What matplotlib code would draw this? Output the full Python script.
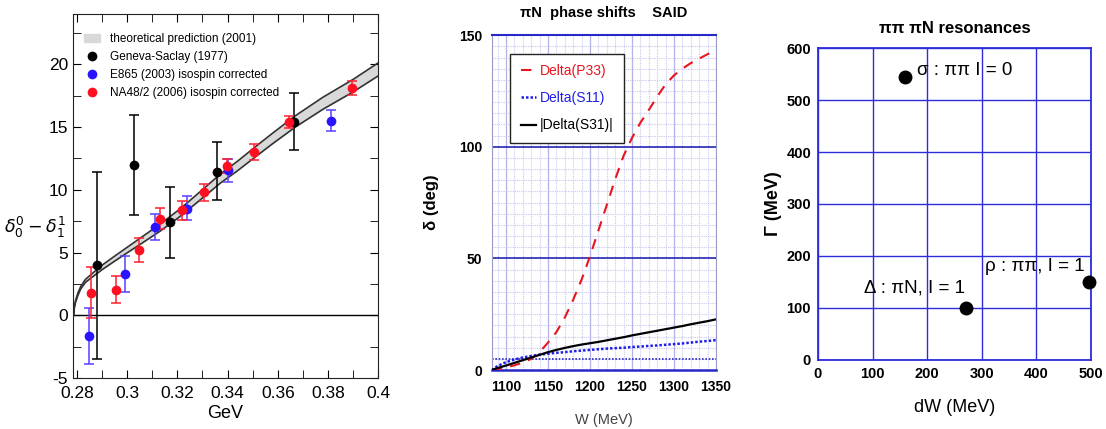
import numpy as np
import matplotlib.pyplot as plt
from matplotlib.ticker import MultipleLocator

# ---- panel 1: delta_0^0 - delta_1^1 vs GeV
theory_x = [0.2788, 0.2790, 0.2795, 0.2805, 0.2816, 0.2835, 0.2869, 0.2900, 0.2950,
            0.3001, 0.3060, 0.3133, 0.3213, 0.3290, 0.3372, 0.3440, 0.3503, 0.3580,
            0.3670, 0.3780, 0.3900, 0.4000]
theory_mid = [0.0, 0.6, 1.1, 1.7, 2.2, 2.75, 3.3, 3.8, 4.5,
              5.2, 6.0, 7.0, 8.2, 9.5, 10.9, 11.9, 12.9, 14.1,
              15.45, 16.9, 18.3, 19.6]
theory_half = [0.03, 0.05, 0.07, 0.09, 0.1, 0.12, 0.15, 0.18, 0.2,
               0.22, 0.25, 0.28, 0.3, 0.33, 0.36, 0.38, 0.4, 0.42,
               0.45, 0.48, 0.5, 0.52]

gs_x = [0.2879, 0.3028, 0.3173, 0.3357, 0.3666]
gs_y = [4.03, 12.0, 7.43, 11.4, 15.4]
gs_lo = [-3.45, 8.0, 4.6, 9.2, 13.15]
gs_hi = [11.4, 16.0, 10.24, 13.8, 17.75]

e865_x = [0.2849, 0.2993, 0.3110, 0.3238, 0.3403, 0.3812]
e865_y = [-1.62, 3.26, 7.0, 8.49, 11.54, 15.52]
e865_lo = [-3.85, 1.83, 6.02, 7.59, 10.66, 14.72]
e865_hi = [0.6, 4.7, 8.06, 9.47, 12.47, 16.37]

na48_x = [0.2857, 0.2957, 0.3046, 0.3133, 0.3217, 0.3305, 0.3398, 0.3506, 0.3644, 0.3894]
na48_y = [1.78, 2.04, 5.23, 7.69, 8.36, 9.79, 11.86, 13.02, 15.38, 18.09]
na48_lo = [-0.2, 0.98, 4.27, 6.9, 7.61, 9.07, 11.3, 12.36, 14.9, 17.56]
na48_hi = [3.82, 3.1, 6.18, 8.54, 9.07, 10.48, 12.47, 13.66, 15.9, 18.7]

# ---- panel 2: piN phase shifts
W = [1083, 1090, 1100, 1110, 1120, 1130, 1140, 1150, 1160, 1170, 1180, 1190, 1200, 1210,
     1220, 1230, 1240, 1250, 1260, 1270, 1280, 1290, 1300, 1310, 1320, 1330, 1340, 1350]
p33 = [0, 0.4, 1.2, 2.1, 3.3, 5.0, 8.0, 12.3, 17.0, 23.5, 31.5, 40.5, 51.0, 62.5,
       74.0, 85.5, 96.0, 104.0, 110.8, 116.5, 122.5, 128.0, 132.0, 135.0, 137.5, 139.5, 141.5, 143.0]
s11 = [0, 1.8, 3.5, 4.7, 5.6, 6.3, 6.9, 7.3, 7.7, 8.0, 8.4, 8.7, 9.0, 9.3,
       9.6, 9.8, 10.0, 10.3, 10.5, 10.8, 11.0, 11.3, 11.6, 11.9, 12.3, 12.7, 13.0, 13.4]
s31 = [0, 0.9, 2.0, 3.2, 4.4, 5.6, 6.8, 8.0, 9.0, 9.9, 10.7, 11.4, 12.0, 12.6,
       13.3, 14.0, 14.7, 15.5, 16.2, 16.9, 17.6, 18.3, 19.0, 19.7, 20.5, 21.2, 21.9, 22.7]

# ---- panel 3: resonances
res_dw = [160, 272, 496]
res_gamma = [545, 100, 149]
res_labels = ['σ : ππ I = 0', 'Δ : πN, I = 1', 'ρ : ππ, I = 1']

plt.rcParams['font.family'] = ['Liberation Sans', 'DejaVu Sans']
plt.rcParams['mathtext.fontset'] = 'dejavusans'
plt.rcParams['axes.unicode_minus'] = False

fig = plt.figure(figsize=(11.06, 4.29), dpi=100)

# ======== panel 1
ax1 = fig.add_axes([0.066, 0.119, 0.276, 0.848])
tx = np.array(theory_x)
tm = np.array(theory_mid)
th = np.array(theory_half)
ax1.fill_between(tx, tm - th, tm + th, color='#d9d9d9', lw=0, zorder=1)
ax1.plot(tx, tm + th, color='#333333', lw=1.2, zorder=2)
ax1.plot(tx, tm - th, color='#333333', lw=1.2, zorder=2)
ax1.axhline(0, color='black', lw=1.0, zorder=1)

def errpts(ax, x, y, lo, hi, color, ecolor, label):
    y = np.array(y)
    err = [y - np.array(lo), np.array(hi) - y]
    ax.errorbar(x, y, yerr=err, fmt='none', ecolor=ecolor, elinewidth=1.1,
                capsize=3.5, capthick=1.1, zorder=3)
    ax.plot(x, y, 'o', color=color, ms=7, mew=0, zorder=4, label=label)

ax1.fill_between([], [], [], color='#d9d9d9', label='theoretical prediction (2001)')
errpts(ax1, gs_x, gs_y, gs_lo, gs_hi, 'black', 'black', 'Geneva-Saclay (1977)')
errpts(ax1, e865_x, e865_y, e865_lo, e865_hi, '#2a14ff', '#5540ff', 'E865 (2003) isospin corrected')
errpts(ax1, na48_x, na48_y, na48_lo, na48_hi, '#ff0f1f', '#ff2030', 'NA48/2 (2006) isospin corrected')

ax1.set_xlim(0.2785, 0.4)
ax1.set_ylim(-5, 24)
ax1.xaxis.set_major_locator(MultipleLocator(0.02))
ax1.xaxis.set_minor_locator(MultipleLocator(0.01))
ax1.yaxis.set_major_locator(MultipleLocator(5))
ax1.yaxis.set_minor_locator(MultipleLocator(2.5))
ax1.xaxis.set_major_formatter(plt.FuncFormatter(lambda v, _: '{:g}'.format(round(v, 2))))
ax1.tick_params(which='both', direction='in', top=True, right=True)
ax1.tick_params(which='major', length=6, labelsize=12.5)
ax1.tick_params(which='minor', length=6)
ax1.tick_params(axis='x', which='major', pad=6)
for s in ax1.spines.values():
    s.set_color('#222222')
ax1.set_xlabel('GeV', fontsize=13, labelpad=3)
fig.text(0.004, 0.47, r'$\delta_0^0 - \delta_1^1$', fontsize=12.5, ha='left', va='center')
leg1 = ax1.legend(loc='upper left', frameon=False, fontsize=8.5, handlelength=1.4,
                  handletextpad=0.8, labelspacing=0.5, borderaxespad=0.0,
                  bbox_to_anchor=(0.02, 0.96))

# ======== panel 2
ax2 = fig.add_axes([0.4446, 0.1375, 0.2028, 0.7805])
ax2.set_xlim(1083, 1350)
ax2.set_ylim(0, 150)
for v in np.arange(1090, 1350, 10):
    ax2.axvline(v, color='#c8c8f0', lw=0.8, ls=(0, (1, 1)), zorder=0)
for v in np.arange(5, 150, 5):
    ax2.axhline(v, color='#c8c8f0', lw=0.8, ls=(0, (1, 1)), zorder=0)
for v in [1100, 1150, 1200, 1250, 1300]:
    ax2.axvline(v, color='#b4b4e8', lw=0.9, zorder=0)
for v in [50, 100]:
    ax2.axhline(v, color='#2828b4', lw=1.2, zorder=1)
ax2.axhline(5, color='#2828c8', lw=1.2, ls=(0, (1, 1)), zorder=1)
ax2.plot(W, p33, color='#e8141e', lw=1.5, ls=(0, (5, 4)), label='Delta(P33)', zorder=3)
ax2.plot(W, s11, color='#1e1ee6', lw=1.8, ls=(0, (1, 0.8)), label='Delta(S11)', zorder=3)
ax2.plot(W, s31, color='black', lw=1.6, label='|Delta(S31)|', zorder=3)
ax2.set_xticks([1100, 1150, 1200, 1250, 1300, 1350])
ax2.set_yticks([0, 50, 100, 150])
ax2.tick_params(length=0, labelsize=10, pad=7)
for lab in ax2.get_xticklabels() + ax2.get_yticklabels():
    lab.set_fontweight('bold')
ax2.spines['top'].set_color('#2828c8')
ax2.spines['bottom'].set_color('#2828c8')
ax2.spines['top'].set_linewidth(1.5)
ax2.spines['bottom'].set_linewidth(1.8)
ax2.spines['left'].set_color('#9a9ac8')
ax2.spines['right'].set_color('#9a9ac8')
ax2.set_title('πN  phase shifts    SAID', fontsize=10.5, fontweight='bold', pad=13)
ax2.set_xlabel('W (MeV)', fontsize=10.5, color='#444444', labelpad=14)
ax2.set_ylabel('δ (deg)', fontsize=12, fontweight='bold', labelpad=14)
leg2 = ax2.legend(loc='upper left', bbox_to_anchor=(0.082, 0.945), fontsize=10,
                  handlelength=1.1, handletextpad=0.3, labelspacing=0.95,
                  fancybox=False, edgecolor='#222222', framealpha=1, borderpad=0.75,
                  borderaxespad=0.0)
for t, c in zip(leg2.get_texts(), ['#e8141e', '#1e1ee6', 'black']):
    t.set_color(c)

# ======== panel 3
ax3 = fig.add_axes([0.7396, 0.161, 0.2468, 0.727])
ax3.set_xlim(0, 500)
ax3.set_ylim(0, 600)
ax3.set_xticks(np.arange(0, 501, 100))
ax3.set_yticks(np.arange(0, 601, 100))
ax3.grid(True, color='#2d2ddc', lw=1.0)
ax3.set_axisbelow(True)
for s in ax3.spines.values():
    s.set_color('#2d2ddc')
    s.set_linewidth(1.3)
ax3.plot(res_dw, res_gamma, 'o', color='black', ms=9, zorder=4, clip_on=False)
ax3.text(res_dw[0] + 22, res_gamma[0] + 12, res_labels[0], fontsize=13.5, va='center', ha='left')
ax3.text(res_dw[1] - 3, res_gamma[1] + 38, res_labels[1], fontsize=13.5, va='center', ha='right')
ax3.text(res_dw[2] - 8, res_gamma[2] + 30, res_labels[2], fontsize=13.5, va='center', ha='right')
ax3.tick_params(length=0, labelsize=10.5, pad=5)
for lab in ax3.get_xticklabels() + ax3.get_yticklabels():
    lab.set_fontweight('bold')
ax3.set_title('ππ πN resonances', fontsize=12, fontweight='bold', pad=11)
ax3.set_xlabel('dW (MeV)', fontsize=13, labelpad=13)
ax3.set_ylabel('Γ (MeV)', fontsize=13, fontweight='bold', labelpad=3)

fig.savefig('out.png', dpi=100)
